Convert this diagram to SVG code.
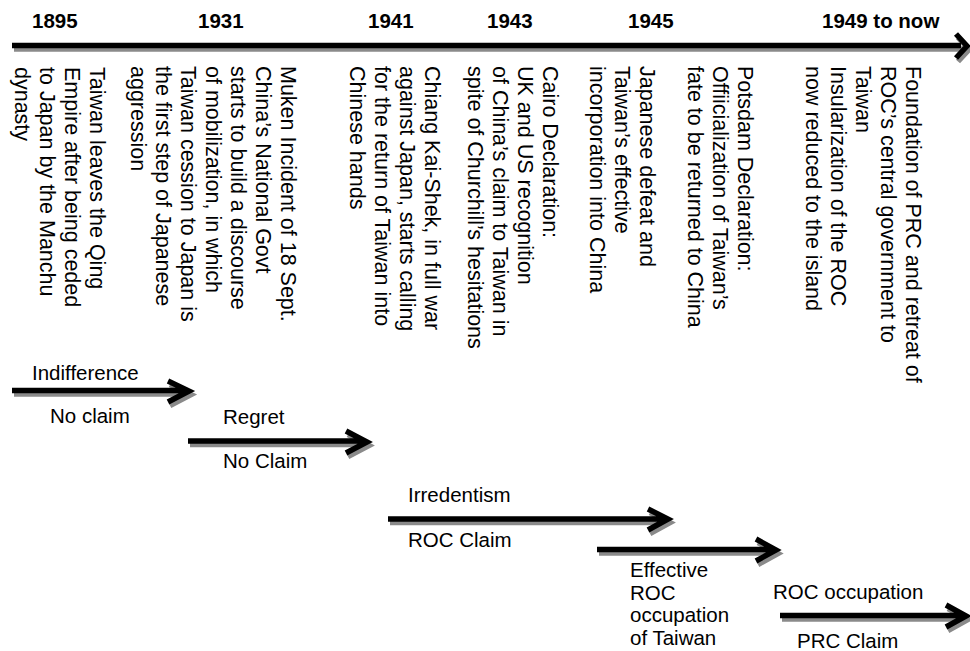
<svg xmlns="http://www.w3.org/2000/svg" width="970" height="651" viewBox="0 0 970 651">
<style>
text{font-family:"Liberation Sans",Arial,sans-serif;fill:#000}
.yr{font-size:20.5px;font-weight:bold}
.ev{font-size:21.5px}
.lb{font-size:20.5px}
.ar{fill:none;stroke:#000;stroke-width:5.5;stroke-linejoin:miter;stroke-miterlimit:10}
.sh{fill:none;stroke:#8a8a8a;stroke-width:5.5;stroke-linejoin:miter;stroke-miterlimit:10}
</style>
<rect width="970" height="651" fill="#fff"/>
<g id="connectors">
  <g transform="translate(2,3.5)" class="sh">
    <path d="M12 45.5H961M956 34L967 46L956 58"/>
    <path d="M12 390.5H185M168 381L189 391L168 402"/>
    <path d="M188 441H363M346 431L367 442L346 453"/>
    <path d="M388 519H664M648 509L668 519L648 530"/>
    <path d="M597 549.5H772M756 539L776 550L756 561"/>
    <path d="M780 615.5H961M946 605L966 616L946 627"/>
  </g>
  <g class="ar">
    <path d="M12 45.5H961M956 34L967 46L956 58"/>
    <path d="M12 390.5H185M168 381L189 391L168 402"/>
    <path d="M188 441H363M346 431L367 442L346 453"/>
    <path d="M388 519H664M648 509L668 519L648 530"/>
    <path d="M597 549.5H772M756 539L776 550L756 561"/>
    <path d="M780 615.5H961M946 605L966 616L946 627"/>
  </g>
</g>
<g id="years">
  <text class="yr" x="32" y="28">1895</text>
  <text class="yr" x="198" y="28">1931</text>
  <text class="yr" x="368" y="28">1941</text>
  <text class="yr" x="487" y="28">1943</text>
  <text class="yr" x="628" y="28">1945</text>
  <text class="yr" x="822" y="28">1949 to now</text>
</g>
<g id="ev1895">
  <text class="ev" transform="translate(90,67) rotate(90)"><tspan x="0" y="0">Taiwan leaves the Qing</tspan><tspan x="0" y="25">Empire after being ceded</tspan><tspan x="0" y="50">to Japan by the Manchu</tspan><tspan x="0" y="75">dynasty</tspan></text>
</g>
<g id="ev1931">
  <text class="ev" transform="translate(281,66) rotate(90)"><tspan x="0" y="0">Muken Incident of 18 Sept.</tspan><tspan x="0" y="25">China’s National Govt</tspan><tspan x="0" y="50">starts to build a discourse</tspan><tspan x="0" y="75">of mobilization, in which</tspan><tspan x="0" y="100">Taiwan cession to Japan is</tspan><tspan x="0" y="125">the first step of Japanese</tspan><tspan x="0" y="150">aggression</tspan></text>
</g>
<g id="ev1941">
  <text class="ev" transform="translate(425,66) rotate(90)"><tspan x="0" y="0">Chiang Kai-Shek, in full war</tspan><tspan x="0" y="25">against Japan, starts calling</tspan><tspan x="0" y="50">for the return of Taiwan into</tspan><tspan x="0" y="75">Chinese hands</tspan></text>
</g>
<g id="ev1943">
  <text class="ev" transform="translate(543,66) rotate(90)"><tspan x="0" y="0">Cairo Declaration:</tspan><tspan x="0" y="25">UK and US recognition</tspan><tspan x="0" y="50">of China’s claim to Taiwan in</tspan><tspan x="0" y="75">spite of Churchill’s hesitations</tspan></text>
</g>
<g id="ev1945a">
  <text class="ev" transform="translate(640,66) rotate(90)"><tspan x="0" y="0">Japanese defeat and</tspan><tspan x="0" y="25">Taiwan’s effective</tspan><tspan x="0" y="50">incorporation into China</tspan></text>
</g>
<g id="ev1945b">
  <text class="ev" transform="translate(738,66) rotate(90)"><tspan x="0" y="0">Potsdam Declaration:</tspan><tspan x="0" y="25">Offiicialization of Taiwan’s</tspan><tspan x="0" y="50">fate to be returned to China</tspan></text>
</g>
<g id="ev1949">
  <text class="ev" transform="translate(906,66) rotate(90)"><tspan x="0" y="0">Foundation of PRC and retreat of</tspan><tspan x="0" y="25">ROC’s central government to</tspan><tspan x="0" y="50">Taiwan</tspan><tspan x="0" y="75">Insularization of the ROC</tspan><tspan x="0" y="100">now reduced to the island</tspan></text>
</g>
<g id="phase-indifference">
  <text class="lb" x="32" y="380">Indifference</text>
  <text class="lb" x="50" y="423">No claim</text>
</g>
<g id="phase-regret">
  <text class="lb" x="223" y="424">Regret</text>
  <text class="lb" x="223" y="468">No Claim</text>
</g>
<g id="phase-irredentism">
  <text class="lb" x="408" y="502">Irredentism</text>
  <text class="lb" x="408" y="547">ROC Claim</text>
</g>
<g id="phase-effective">
  <text class="lb"><tspan x="630" y="577">Effective</tspan><tspan x="630" y="599.5">ROC</tspan><tspan x="630" y="622">occupation</tspan><tspan x="630" y="645">of Taiwan</tspan></text>
</g>
<g id="phase-occupation">
  <text class="lb" x="773" y="599">ROC occupation</text>
  <text class="lb" x="797" y="648">PRC Claim</text>
</g>
</svg>
